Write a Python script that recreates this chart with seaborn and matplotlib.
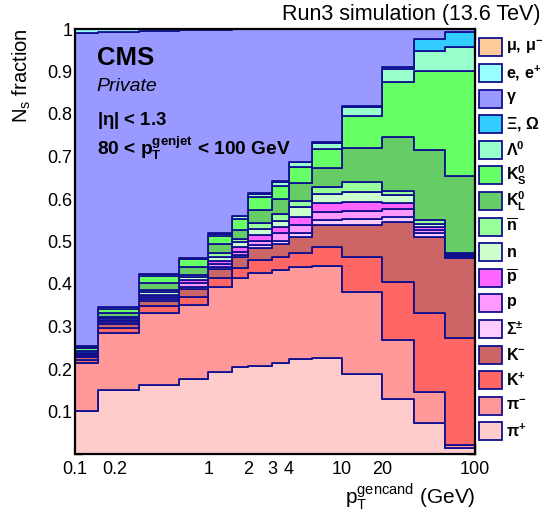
import numpy as np
import pandas as pd
import matplotlib
matplotlib.use("Agg")
import matplotlib.pyplot as plt
from matplotlib.patches import Rectangle
from matplotlib.ticker import FixedLocator, LogLocator, MultipleLocator, FuncFormatter
import seaborn as sns

# Bin edges in candidate pT (GeV)
pt_edges = [0.1, 0.15, 0.3, 0.6, 1.0, 1.5, 2.0, 3.0, 4.0, 6.0, 10.0, 20.0, 35.0, 60.0, 100.0]

# Fraction of candidates per species in each pT bin
pi_plus     = [.100, .150, .162, .177, .194, .205, .208, .213, .223, .225, .188, .129, .074, .014]
pi_minus    = [.113, .135, .169, .174, .200, .208, .217, .220, .216, .217, .194, .139, .071, .007]
k_plus      = [.008, .011, .017, .018, .019, .024, .031, .030, .035, .046, .081, .137, .186, .251]
k_minus     = [.007, .010, .013, .019, .022, .026, .029, .031, .037, .051, .076, .142, .179, .189]
sigma_pm    = [.002, .003, .004, .006, .006, .005, .007, .006, .008, .012, .013, .011, .009, .003]
proton      = [.002, .004, .005, .008, .007, .008, .010, .019, .020, .019, .020, .018, .008, .003]
antiproton  = [.002, .003, .005, .008, .007, .010, .013, .016, .019, .021, .022, .015, .008, .002]
neutron     = [.002, .003, .006, .006, .008, .013, .014, .014, .022, .021, .023, .018, .007, .002]
antineutron = [.002, .004, .006, .005, .009, .006, .014, .015, .016, .017, .024, .011, .009, .003]
k0_long     = [.004, .008, .016, .020, .022, .022, .031, .035, .041, .045, .080, .127, .164, .180]
k0_short    = [.007, .011, .016, .017, .020, .025, .031, .032, .038, .043, .075, .129, .185, .248]
lambda0     = [.003, .003, .004, .003, .004, .008, .007, .010, .012, .014, .020, .029, .049, .056]
xi_omega    = [.001, .001, .001, .001, .001, .001, .001, .001, .001, .002, .003, .006, .027, .036]
photon      = [.737, .648, .571, .536, .479, .438, .386, .357, .311, .266, .180, .088, .023, .006]
electron    = [.010, .006, .005, .002, .002, .001, .001, .001, .001, .001, .001, .001, .001, .000]
muon        = [.000, .000, .000, .000, .000, .000, .000, .000, .000, .000, .000, .000, .000, .000]

# Species listed top of the stack first (legend order)
species = [
    ("mu",   r"\mu,\,\mu^{-}",      "#ffcc99", muon),
    ("e",    r"e,\,e^{+}",          "#99ffff", electron),
    ("gam",  r"\gamma",             "#9999ff", photon),
    ("xi",   r"\Xi,\,\Omega",       "#33ccff", xi_omega),
    ("lam",  r"\Lambda^{0}",        "#99ffcc", lambda0),
    ("ks",   r"K^{0}_{S}",          "#66ff66", k0_short),
    ("kl",   r"K^{0}_{L}",          "#66cc66", k0_long),
    ("nbar", r"\overline{n}",       "#99ff99", antineutron),
    ("n",    r"n",                  "#ccffcc", neutron),
    ("pbar", r"\overline{p}",       "#ff66ff", antiproton),
    ("p",    r"p",                  "#ff99ff", proton),
    ("sig",  r"\Sigma^{\pm}",       "#ffccff", sigma_pm),
    ("km",   r"K^{-}",              "#cc6666", k_minus),
    ("kp",   r"K^{+}",              "#ff6666", k_plus),
    ("pim",  r"\pi^{-}",            "#ff9999", pi_minus),
    ("pip",  r"\pi^{+}",            "#ffcccc", pi_plus),
]

edges = np.array(pt_edges)
centers = np.sqrt(edges[:-1] * edges[1:])
rows = []
for key, _, _, vals in species:
    for c, v in zip(centers, vals):
        rows.append({"pt": c, "frac": v, "species": key})
df = pd.DataFrame(rows)

sns.set_theme(style="ticks")
plt.rcParams["font.family"] = ["Liberation Sans", "DejaVu Sans"]
plt.rcParams["text.color"] = "black"
plt.rcParams["axes.labelcolor"] = "black"
plt.rcParams["xtick.color"] = "black"
plt.rcParams["ytick.color"] = "black"
plt.rcParams["mathtext.fontset"] = "custom"
plt.rcParams["mathtext.rm"] = "Liberation Sans"
plt.rcParams["mathtext.it"] = "Liberation Sans:italic"
plt.rcParams["mathtext.bf"] = "Liberation Sans:bold"
plt.rcParams["mathtext.sf"] = "Liberation Sans"

W, H = 545, 521
fig = plt.figure(figsize=(W / 100, H / 100), dpi=100)
ax_l, ax_r, ax_t, ax_b = 75, 475, 29, 454
ax = fig.add_axes([ax_l / W, 1 - ax_b / H, (ax_r - ax_l) / W, (ax_b - ax_t) / H])

edge_col = "#10108f"
sns.histplot(
    data=df, x="pt", weights="frac", hue="species",
    hue_order=[s[0] for s in species],
    palette={s[0]: s[2] for s in species},
    multiple="stack", bins=[float(b) for b in np.log10(edges)], log_scale=True,
    element="step", fill=True, alpha=1.0,
    edgecolor=edge_col, linewidth=1.3, legend=False, ax=ax,
)

ax.set_xlim(0.1, 100)
ax.set_ylim(0, 1)
ax.set_xlabel("")
ax.set_ylabel("")

# y axis ticks
ax.yaxis.set_major_locator(FixedLocator([0.1, 0.2, 0.3, 0.4, 0.5, 0.6, 0.7, 0.8, 0.9, 1.0]))
ax.yaxis.set_minor_locator(MultipleLocator(0.02))
ax.yaxis.set_major_formatter(FuncFormatter(lambda v, p: "1" if abs(v - 1) < 1e-9 else f"{v:.1f}"))

# x axis ticks
ax.xaxis.set_major_locator(LogLocator(base=10, subs=(1.0,)))
ax.xaxis.set_minor_locator(LogLocator(base=10, subs=np.arange(2, 10)))
labeled_minor = {0.2: "0.2", 2.0: "2", 3.0: "3", 4.0: "4", 20.0: "20"}

def minor_fmt(v, p):
    for k, s in labeled_minor.items():
        if abs(v - k) / k < 1e-6:
            return s
    return ""

ax.xaxis.set_minor_formatter(FuncFormatter(minor_fmt))
ax.xaxis.set_major_formatter(FuncFormatter(lambda v, p: f"{v:g}"))

ax.tick_params(which="both", direction="in", top=True, right=True, colors="black",
               labelsize=13, width=1.0)
ax.tick_params(axis="y", which="major", length=9.5, pad=2)
ax.tick_params(axis="y", which="minor", length=5)
ax.tick_params(axis="x", which="major", length=8, pad=5)
ax.tick_params(axis="x", which="minor", length=4.5, pad=5)
for sp in ax.spines.values():
    sp.set_linewidth(1.6)
    sp.set_color("black")
    sp.set_zorder(10)

def fx(px):
    return px / W

def fy(py):
    return 1 - py / H

# Labels and annotations
fig.text(fx(541), fy(20), "Run3 simulation (13.6 TeV)", ha="right", va="baseline", fontsize=15.5)
fig.text(fx(97), fy(65), "CMS", ha="left", va="baseline", fontsize=18.5, fontweight="bold")
fig.text(fx(96), fy(91), "Private", ha="left", va="baseline", fontsize=14, style="italic")
fig.text(fx(97), fy(125), r"|$\mathbf{\eta}$| < 1.3", ha="left", va="baseline", fontsize=13.3,
         fontweight="bold")
fig.text(fx(97), fy(155), r"80 < $\mathbf{p_{T}^{genjet}}$ < 100 GeV", ha="left", va="baseline",
         fontsize=13.8, fontweight="bold")
fig.text(fx(22), fy(28), r"N$_{\mathrm{s}}$ fraction", ha="center", va="top", rotation=90,
         fontsize=14.5)
fig.text(fx(476), fy(504), r"p$_{\mathrm{T}}^{\mathrm{gencand}}$ (GeV)", ha="right", va="baseline",
         fontsize=15)

# Legend column on the right
y0, dy = 47.3, 25.6
for i, (_, label, color, _) in enumerate(species):
    yc = y0 + i * dy
    fig.patches.append(Rectangle((fx(479), fy(yc + 9)), 23 / W, 18 / H, transform=fig.transFigure,
                                 facecolor=color, edgecolor=edge_col, linewidth=1.3, figure=fig))
    fig.text(fx(506), fy(yc), "$\\mathbf{" + label + "}$",
             ha="left", va="center", fontsize=11.5, fontweight="bold")

fig.savefig("out.png", dpi=100)
